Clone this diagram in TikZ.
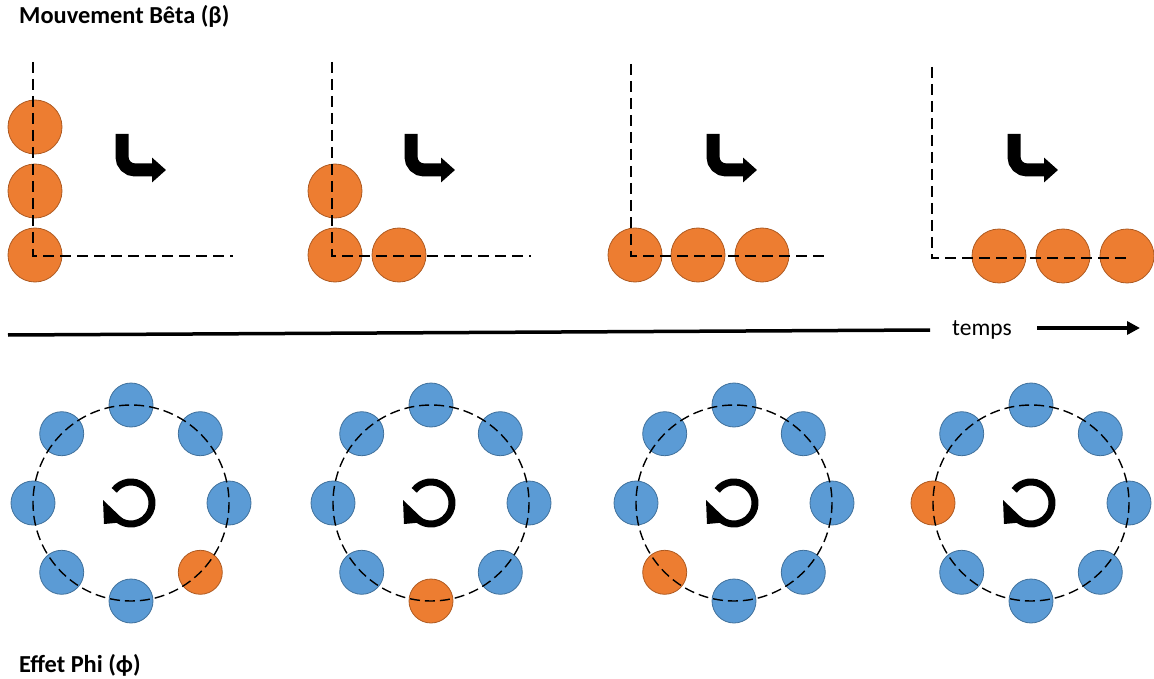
\documentclass[tikz,border=0pt]{standalone}
\usepackage{fontspec}
\setmainfont{Carlito}
\usetikzlibrary{arrows.meta, calc}
\definecolor{dotorange}{HTML}{ED7D31}
\definecolor{dotorangeline}{HTML}{AE5A21}
\definecolor{dotblue}{HTML}{5B9BD5}
\definecolor{dotblueline}{HTML}{41719C}

\begin{document}
\begin{tikzpicture}[
    x=1pt, y=-1pt,
    bigdot/.style   = {circle, minimum size=54pt, inner sep=0pt,
                       fill=dotorange, draw=dotorangeline, line width=0.8pt},
    smalldot/.style = {circle, minimum size=44pt, inner sep=0pt,
                       fill=dotblue, draw=dotblueline, line width=0.8pt},
    hitdot/.style   = {smalldot, fill=dotorange, draw=dotorangeline},
    guide/.style    = {dash pattern=on 11pt off 6pt, line width=1.4pt},
    orbit/.style    = {dash pattern=on 10pt off 5pt, line width=1.4pt},
    turn/.style     = {line width=13pt, rounded corners=13pt,
                       -{Triangle[length=14pt, width=24pt]}},
    spin/.style     = {line width=7pt},
    timeline/.style = {line width=3.5pt},
    title/.style    = {font=\bfseries\fontsize{24.4}{29}\selectfont, anchor=base west, inner sep=0pt},
  ]
  \useasboundingbox (0,0) rectangle (1154,679);

  % titles
  \node[title] (betatitle) at (19,24) {Mouvement Bêta (β)};
  \node[title] (phititle) at (19,672) {Effet Phi (ϕ)};

  % top row: dots, guides, bent arrow
  \foreach \vx/\vy/\hx/\hy/\ax/\dots [count=\p] in
      {33/62/233/256/122/{35/127,35/191,35/255},
       332/62/531/256/411/{335/191,335/255,399/255},
       631/64/830/256/713/{635/255,698/255,762/255},
       932/67/1131/258/1014/{999/256,1063/256,1127/256}} {
    \foreach \dx/\dy [count=\d] in \dots
      \node[bigdot] (beta\p-\d) at (\dx,\dy) {};
    \coordinate (top\p) at (\vx,\vy);
    \coordinate (corner\p) at (\vx,\hy);
    \coordinate (end\p) at (\hx,\hy);
    \draw[guide] (top\p) -- (corner\p) -- (end\p);
    \draw[turn] (\ax,134) -- (\ax,170) -- (\ax+44,170);
  }

  % time axis
  \coordinate (tstart) at (8,335);
  \coordinate (tend) at (930,330);
  \node[anchor=base west, inner sep=0pt, font=\fontsize{23.5}{28}\selectfont] (temps) at (952,335) {temps};
  \coordinate (tfrom) at (1037,328);
  \coordinate (tto) at (1140,328);
  \draw[timeline] (tstart) -- (tend);
  \draw[timeline, -{Triangle[length=13pt, width=13pt]}] (tfrom) -- (tto);

  % bottom row: ring of dots, orbit, rotation sign
  \foreach \cx/\hit [count=\p] in {131/45, 431/90, 734/135, 1031/180} {
    \coordinate (mid\p) at (\cx,503);
    \foreach \a in {0,45,...,315} {
      \ifnum\a=\hit\def\dotstyle{hitdot}\else\def\dotstyle{smalldot}\fi
      \node[\dotstyle] (phi\p-\a) at ($(mid\p)+(\a:98)$) {};
    }
    \draw[orbit] (mid\p) circle[radius=98];
    \draw[spin] (mid\p) ++(-143:21) arc[start angle=-143, end angle=135, radius=21];
    \fill (mid\p) ++(-28,-3) -- ++(1,24) -- ++(22,-2) -- cycle;
  }
\end{tikzpicture}
\end{document}
